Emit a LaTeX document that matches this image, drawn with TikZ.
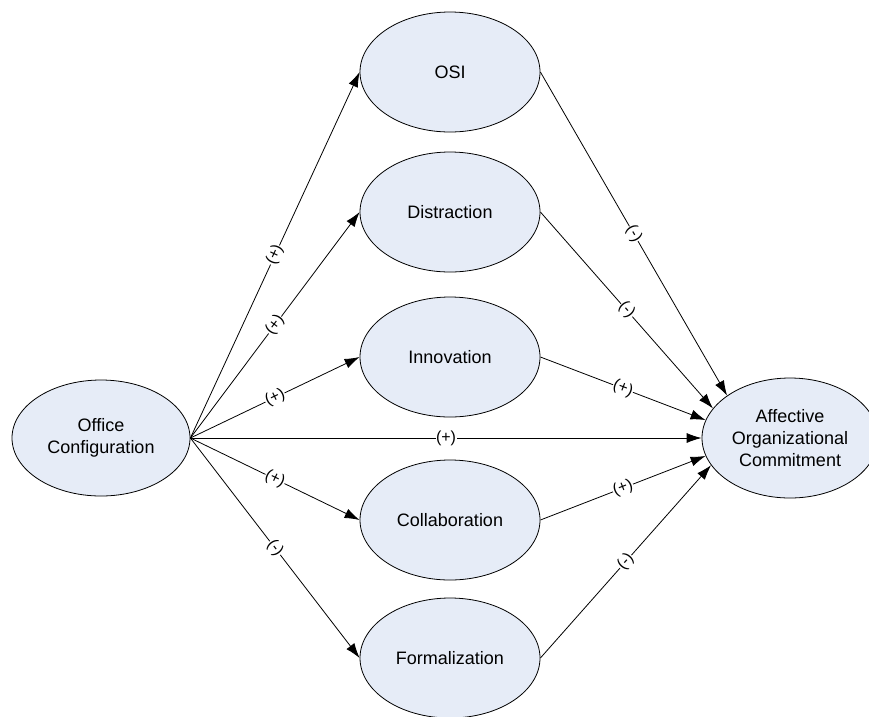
\documentclass[tikz,border=0pt]{standalone}
\usepackage{fontspec}
\setmainfont{Liberation Sans}
\usepackage{xcolor}
\usepackage{tikz}
\usetikzlibrary{shapes.geometric, arrows.meta}

\definecolor{ellfill}{RGB}{230,236,247}

\begin{document}
\begin{tikzpicture}[x=1pt, y=-1pt,
                    every node/.style={align=center, font=\fontsize{18}{22}\selectfont},
                    construct/.style={draw, ellipse, fill=ellfill, line width=0.8pt, inner sep=0pt, minimum width=180pt, minimum height=120pt},
                    link/.style={-{Latex[length=15pt, width=10pt]}, line width=0.8pt},
                    effect/.style={fill=white, sloped, inner sep=0.5pt, font=\fontsize{16}{16}\selectfont}
                ]
                    \useasboundingbox (0,0) rectangle (869,716);

                    % Nodes
                    \node (oc) [construct, minimum width=178pt, minimum height=116pt] at (101,438) {Office\\Configuration};
                    \node (osi) [construct] at (450,72) {OSI};
                    \node (dis) [construct] at (450,212) {Distraction};
                    \node (inn) [construct] at (450,357) {Innovation};
                    \node (col) [construct] at (450,520) {Collaboration};
                    \node (form) [construct] at (450,658) {Formalization};
                    \node (aoc) [construct, minimum width=176pt] at (790,438) {Affective\\Organizational\\Commitment};

                    % Arrows
                    \draw[link] (oc.east) -- node[effect] {(+)} (osi.west);
                    \draw[link] (oc.east) -- node[effect] {(+)} (dis.west);
                    \draw[link] (oc.east) -- node[effect] {(+)} (inn.west);
                    \draw[link] (oc.east) -- node[effect] {(+)} (aoc.west);
                    \draw[link] (oc.east) -- node[effect] {(+)} (col.west);
                    \draw[link] (oc.east) -- node[effect] {(-)} (form.west);

                    \draw[link] (osi.east) -- node[effect] {(-)} (aoc.146);
                    \draw[link] (dis.east) -- node[effect] {(-)} (aoc.159);
                    \draw[link] (inn.east) -- node[effect] {(+)} (aoc.168);
                    \draw[link] (col.east) -- node[effect] {(+)} (aoc.192);
                    \draw[link] (form.east) -- node[effect] {(-)} (aoc.199);

                \end{tikzpicture}
\end{document}
